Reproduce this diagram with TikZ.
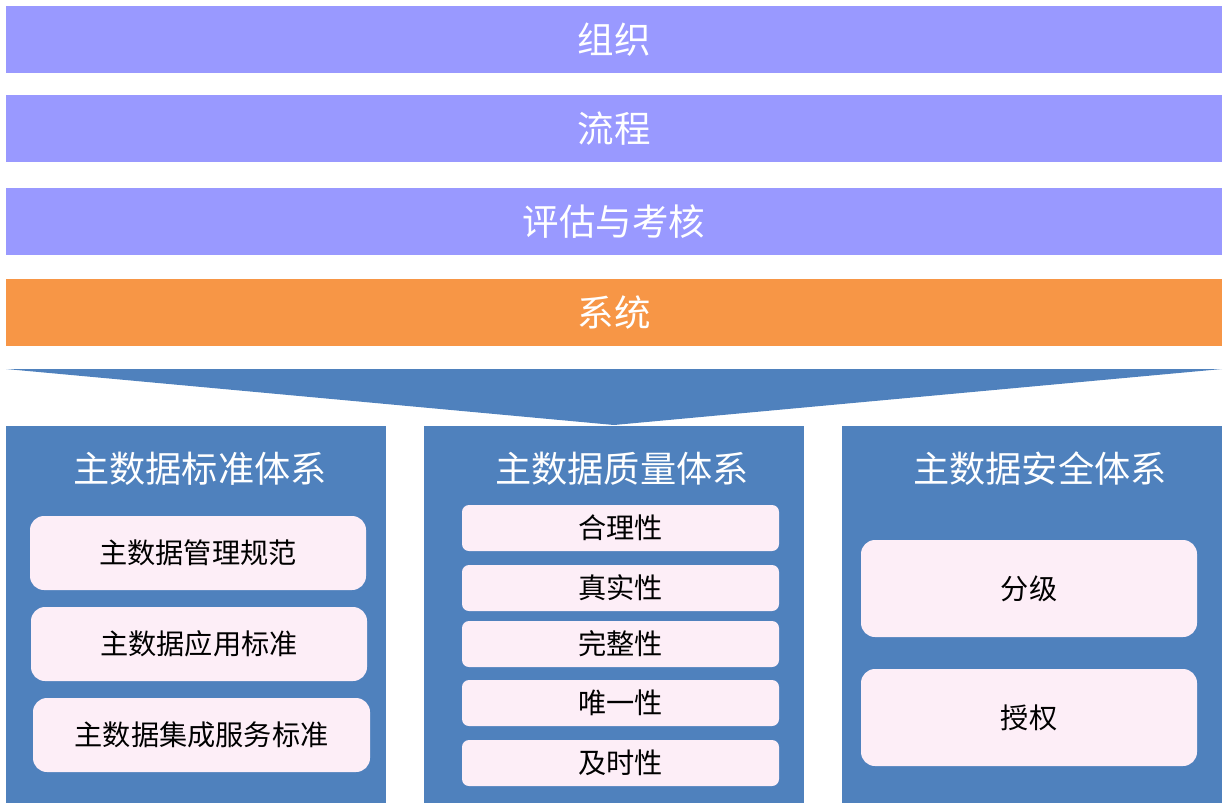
\documentclass[tikz,border=0pt]{standalone}
\usepackage{fontspec}
\setmainfont{Noto Sans CJK SC}
\definecolor{barpurple}{HTML}{9999FF}
\definecolor{barorange}{HTML}{F79646}
\definecolor{colblue}{HTML}{4F81BD}
\definecolor{boxpink}{HTML}{FDEEF7}
\tikzset{
  bar/.style={fill=barpurple, draw=none, inner sep=0pt, outer sep=0pt, minimum width=1216pt, minimum height=67pt, text=white, font=\fontsize{36.5pt}{38pt}\selectfont},
  column/.style={fill=colblue, draw=none, inner sep=0pt, outer sep=0pt, minimum width=380pt, minimum height=377pt},
  coltitle/.style={text=white, inner sep=0pt, font=\fontsize{36.2pt}{38pt}\selectfont},
  bigbox/.style={fill=boxpink, draw=none, rounded corners=14pt, inner sep=0pt, text=black, font=\fontsize{28.2pt}{30pt}\selectfont},
  smallbox/.style={fill=boxpink, draw=none, rounded corners=7pt, inner sep=0pt, minimum width=317pt, minimum height=46pt, text=black, font=\fontsize{28.2pt}{30pt}\selectfont}
}
\begin{document}
\begin{tikzpicture}[x=1pt,y=-1pt]
\useasboundingbox (0,0) rectangle (1229,803);
% top bars
\node[bar] (b1) at (614,39.5) {组织};
\node[bar] (b2) at (614,128.5) {流程};
\node[bar] (b3) at (614,221.5) {评估与考核};
\node[bar, fill=barorange] (b4) at (614,312) {系统};
% funnel
\fill[colblue] (6,369) -- (1222,369) -- (614,425) -- cycle;
% columns
\node[column] (c1) at (196,614.5) {};
\node[column] (c2) at (614,614.5) {};
\node[column] (c3) at (1032,614.5) {};
\node[coltitle] (t1) at (200,469) {主数据标准体系};
\node[coltitle] (t2) at (622,469) {主数据质量体系};
\node[coltitle] (t3) at (1040,469) {主数据安全体系};
% column 1 boxes
\node[bigbox, minimum width=336pt, minimum height=74pt] (s1) at (198,553) {主数据管理规范};
\node[bigbox, minimum width=336pt, minimum height=74pt] (s2) at (199,644) {主数据应用标准};
\node[bigbox, minimum width=337pt, minimum height=74pt] (s3) at (201.5,735) {主数据集成服务标准};
% column 2 boxes
\node[smallbox] (q1) at (620.5,528) {合理性};
\node[smallbox] (q2) at (620.5,588) {真实性};
\node[smallbox] (q3) at (620.5,644) {完整性};
\node[smallbox] (q4) at (620.5,703) {唯一性};
\node[smallbox] (q5) at (620.5,763) {及时性};
% column 3 boxes
\node[bigbox, minimum width=336pt, minimum height=97pt] (a1) at (1029,588.5) {分级};
\node[bigbox, minimum width=336pt, minimum height=97pt] (a2) at (1029,717.5) {授权};
\end{tikzpicture}
\end{document}
